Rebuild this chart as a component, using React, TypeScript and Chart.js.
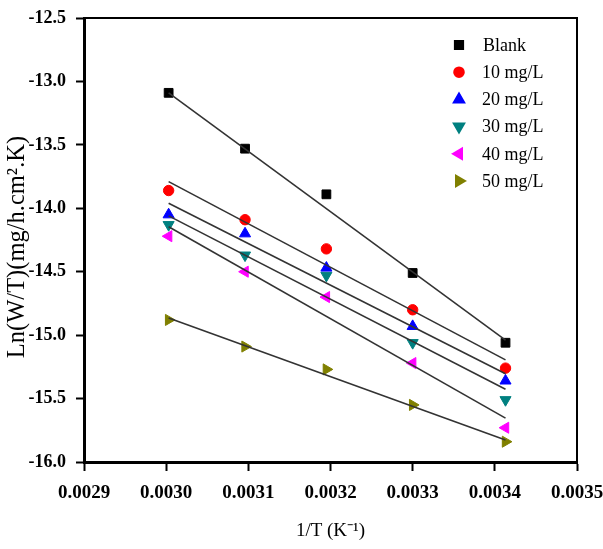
import React, { useEffect, useRef } from "react";
import { Chart, registerables } from "chart.js";
import { drawPoint } from "chart.js/helpers";

Chart.register(...registerables);

const invT = [0.003003, 0.003096, 0.003195, 0.0033, 0.003413];
const seriesLabels = ["Blank", "10 mg/L", "20 mg/L", "30 mg/L", "40 mg/L", "50 mg/L"];
const blank = [-13.09, -13.53, -13.89, -14.51, -15.06];
const c10 = [-13.86, -14.09, -14.32, -14.8, -15.26];
const c20 = [-14.05, -14.2, -14.47, -14.93, -15.36];
const c30 = [-14.13, -14.37, -14.53, -15.06, -15.51];
const c40 = [-14.22, -14.5, -14.7, -15.22, -15.73];
const c50 = [-14.88, -15.09, -15.27, -15.55, -15.84];
// fitted lines: value at first and last 1/T
const fitStart = [-13.09, -13.79, -13.96, -14.06, -14.145, -14.864];
const fitEnd = [-15.04, -15.195, -15.305, -15.426, -15.654, -15.826];
const xTicksMin = 0.0029;
const xTicksMax = 0.0035;
const yTicksMin = -16.0;
const yTicksMax = -12.5;
const xTitle = "1/T (K\u207B\u00B9)";
const yTitle = "Ln(W/T)(mg/h.cm\u00B2.K)";

const series = [blank, c10, c20, c30, c40, c50];
const colors = ["#000000", "#ff0000", "#0000ff", "#008080", "#ff00ff", "#808000"];
const styles = [
  { pointStyle: "rect", rotation: 0, radius: 6.2 },
  { pointStyle: "circle", rotation: 0, radius: 5.2 },
  { pointStyle: "triangle", rotation: 0, radius: 6.4 },
  { pointStyle: "triangle", rotation: 180, radius: 6.4 },
  { pointStyle: "triangle", rotation: 270, radius: 6.4 },
  { pointStyle: "triangle", rotation: 90, radius: 6.4 },
];

const FONT = "'Liberation Serif', 'Times New Roman', serif";

const decorPlugin = {
  id: "decor",
  afterDatasetsDraw(chart: any) {
    const { ctx, chartArea } = chart;
    ctx.save();
    // top and right frame
    ctx.strokeStyle = "#000";
    ctx.lineWidth = 2;
    ctx.beginPath();
    ctx.moveTo(chartArea.left, chartArea.top);
    ctx.lineTo(chartArea.right, chartArea.top);
    ctx.lineTo(chartArea.right, chartArea.bottom);
    ctx.stroke();
    // legend
    const lx = 459;
    const tx = 482;
    const y0 = 45;
    const dy = 27.2;
    ctx.font = `18px ${FONT}`;
    ctx.textAlign = "left";
    ctx.textBaseline = "middle";
    seriesLabels.forEach((lab, i) => {
      const y = y0 + i * dy;
      ctx.fillStyle = colors[i];
      ctx.strokeStyle = colors[i];
      drawPoint(ctx, { pointStyle: styles[i].pointStyle, rotation: styles[i].rotation, radius: styles[i].radius - 0.4, borderWidth: 1 }, lx, y);
      ctx.fillStyle = "#000";
      ctx.fillText(lab, i === 0 ? tx + 1 : tx, y + 1);
    });
    // axis titles
    ctx.fillStyle = "#000";
    ctx.textAlign = "center";
    ctx.textBaseline = "middle";
    ctx.font = `19px ${FONT}`;
    ctx.fillText(xTitle, (chartArea.left + chartArea.right) / 2, 531);
    ctx.save();
    ctx.translate(18, 247);
    ctx.rotate(-Math.PI / 2);
    ctx.font = `24.5px ${FONT}`;
    ctx.fillText(yTitle, 0, 0);
    ctx.restore();
    ctx.restore();
  },
};

export default function App() {
  const ref = useRef<HTMLCanvasElement | null>(null);
  useEffect(() => {
    if (!ref.current) return;
    const lineSets = series.map((_, i) => ({
      type: "line" as const,
      label: "fit " + seriesLabels[i],
      data: [
        { x: invT[0], y: fitStart[i] },
        { x: invT[invT.length - 1], y: fitEnd[i] },
      ],
      borderColor: "#333333",
      borderWidth: 1.6,
      pointRadius: 0,
      showLine: true,
      fill: false,
      order: 0,
    }));
    const pointSets = series.map((vals, i) => ({
      type: "scatter" as const,
      label: seriesLabels[i],
      data: vals.map((v, j) => ({ x: invT[j], y: v })),
      backgroundColor: colors[i],
      borderColor: colors[i],
      borderWidth: 1,
      pointStyle: styles[i].pointStyle,
      rotation: styles[i].rotation,
      pointRadius: styles[i].radius,
      showLine: false,
      order: 1,
    }));
    const chart = new Chart(ref.current, {
      type: "scatter",
      data: { datasets: [...pointSets, ...lineSets] as any },
      options: {
        animation: false,
        responsive: false,
        maintainAspectRatio: false,
        layout: { padding: { left: 0, top: 18, right: 26, bottom: 0 } },
        plugins: { legend: { display: false }, tooltip: { enabled: false } },
        scales: {
          x: {
            type: "linear",
            min: xTicksMin,
            max: xTicksMax,
            afterFit: (s: any) => {
              s.height = 87;
              s.paddingLeft = 0;
              s.paddingRight = 0;
            },
            ticks: {
              stepSize: 0.0001,
              padding: 11,
              color: "#000",
              font: { family: FONT, size: 19, weight: "bold" },
              callback: (v: any) => Number(v).toFixed(4),
            },
            grid: { display: true, drawOnChartArea: false, drawTicks: true, tickLength: 9, tickWidth: 2, tickColor: "#000" },
            border: { display: true, width: 3, color: "#000" },
          },
          y: {
            type: "linear",
            min: yTicksMin,
            max: yTicksMax,
            afterFit: (s: any) => {
              s.width = 84;
              s.paddingTop = 0;
              s.paddingBottom = 0;
            },
            ticks: {
              stepSize: 0.5,
              padding: 10,
              color: "#000",
              font: { family: FONT, size: 18, weight: "bold" },
              callback: (v: any) => Number(v).toFixed(1),
            },
            grid: { display: true, drawOnChartArea: false, drawTicks: true, tickLength: 8, tickWidth: 2, tickColor: "#000" },
            border: { display: true, width: 3, color: "#000" },
          },
        },
      } as any,
      plugins: [decorPlugin],
    });
    return () => chart.destroy();
  }, []);
  return (
    <div style={{ position: "absolute", left: 0, top: 0, width: 603, height: 549, background: "#fff" }}>
      <canvas ref={ref} width={603} height={549} />
    </div>
  );
}
